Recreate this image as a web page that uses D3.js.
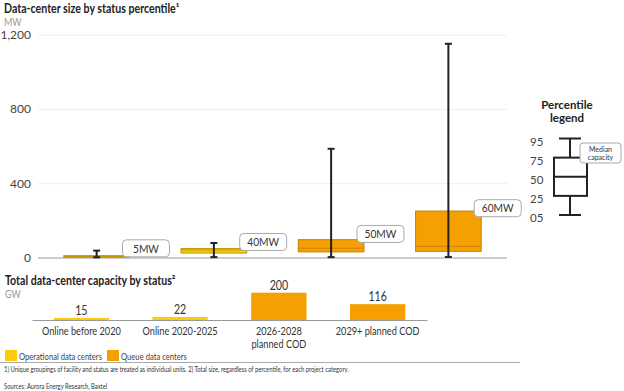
<!DOCTYPE html>
<html>
<head>
<meta charset="utf-8">
<script src="https://cdn.jsdelivr.net/npm/d3@7/dist/d3.min.js"></script>
<style>
  html, body { margin: 0; padding: 0; background: #fff; }
  svg { display: block; font-family: Lato, "Open Sans", sans-serif; }
</style>
</head>
<body>
<svg id="chart" width="624" height="391"></svg>
<script>
// ---- data ----
const categories = ["Online before 2020", "Online 2020-2025", "2026-2028\nplanned COD", "2029+ planned COD"];
const status = ["Operational", "Operational", "Queue", "Queue"];
const p05 = [1, 2, 2, 3];
const p25 = [1, 24, 30, 33];
const p50 = [5, 40, 50, 60];
const p75 = [10, 48, 96, 250];
const p95 = [37, 78, 585, 1150];
const medianLabels = ["5MW", "40MW", "50MW", "60MW"];
const capacityGW = [15, 22, 200, 116];
const sizeTicks = [0, 400, 800, 1200];
const legendPercentiles = ["95", "75", "50", "25", "05"];
const legendItems = ["Operational data centers", "Queue data centers"];

const fillColor = { Operational: "#FFCA08", Queue: "#F5A000" };
const strokeColor = { Operational: "#BE9600", Queue: "#C98300" };

const svg = d3.select("#chart");
const idx = d3.range(categories.length);

// narrow the text horizontally to match the reference's condensed rendering
function squeeze(sel, f) {
  sel.each(function () {
    const L = this.getComputedTextLength();
    this.setAttribute("textLength", L * f);
    this.setAttribute("lengthAdjust", "spacingAndGlyphs");
  });
  return sel;
}
const SQ = 0.85;

// ---- top panel ----
squeeze(svg.append("text").attr("x", 4).attr("y", 13).attr("font-size", 12.5).attr("font-weight", 700)
  .attr("fill", "#222").text("Data-center size by status percentile¹"), SQ);
squeeze(svg.append("text").attr("x", 4).attr("y", 25.5).attr("font-size", 10.5).attr("fill", "#999").text("MW"), SQ);

const xTop = d3.scaleBand().domain(idx).range([38, 507]).padding(0);
const boxW = xTop.step() * 0.56;
const y = d3.scaleLinear().domain([0, 1200]).range([257.5, 34.5]);

const yAxis = svg.append("g").attr("transform", "translate(38,0)")
  .call(d3.axisLeft(y).tickValues(sizeTicks).tickFormat(d3.format(",")).tickSize(-469).tickPadding(7));
yAxis.select(".domain").remove();
yAxis.selectAll(".tick line").attr("stroke", d => d === 0 ? "#999" : "#eeeeee");
yAxis.selectAll(".tick text").attr("font-size", 12).attr("fill", "#444").attr("font-family", "Lato, sans-serif");

const boxes = svg.append("g");
idx.forEach(i => {
  const cx = xTop(i) + xTop.bandwidth() / 2;
  const g = boxes.append("g");
  g.append("rect").attr("x", cx - boxW / 2).attr("y", y(p75[i]))
    .attr("width", boxW).attr("height", Math.max(1, y(p25[i]) - y(p75[i])))
    .attr("fill", fillColor[status[i]]).attr("stroke", strokeColor[status[i]]).attr("stroke-width", 1);
  g.append("line").attr("x1", cx - boxW / 2).attr("x2", cx + boxW / 2)
    .attr("y1", y(p50[i])).attr("y2", y(p50[i])).attr("stroke", strokeColor[status[i]]).attr("stroke-width", 1);
  g.append("line").attr("x1", cx).attr("x2", cx).attr("y1", y(p05[i])).attr("y2", y(p95[i]))
    .attr("stroke", "#222").attr("stroke-width", 2);
  [p05[i], p95[i]].forEach(v => {
    g.append("line").attr("x1", cx - 3.5).attr("x2", cx + 3.5).attr("y1", y(v)).attr("y2", y(v))
      .attr("stroke", "#222").attr("stroke-width", 2);
  });
  // median label
  const lx = cx + boxW / 2 - 7;
  const lh = 17, lw = 47;
  const lyBottom = y(p75[i]) + 1 + (y(0) - y(p75[i])) * 0.1;
  g.append("rect").attr("x", lx).attr("y", lyBottom - lh).attr("width", lw).attr("height", lh)
    .attr("rx", 4).attr("fill", "#fff").attr("stroke", "#aaa").attr("stroke-width", 1);
  squeeze(g.append("text").attr("font-size", 12).attr("fill", "#333").text(medianLabels[i])
    .attr("x", lx + lw / 2).attr("y", lyBottom - lh / 2 + 4.3).attr("text-anchor", "middle"), SQ);
});

// ---- percentile legend ----
const lg = svg.append("g");
lg.append("text").attr("x", 567).attr("y", 109).attr("text-anchor", "middle").attr("font-size", 11.5)
  .attr("font-weight", 700).attr("fill", "#222").text("Percentile");
lg.append("text").attr("x", 567).attr("y", 122).attr("text-anchor", "middle").attr("font-size", 11.5)
  .attr("font-weight", 700).attr("fill", "#222").text("legend");
const yl = d3.scalePoint().domain(legendPercentiles).range([138.5, 215]);
const lcx = 570;
lg.selectAll("text.pl").data(legendPercentiles).enter().append("text").attr("class", "pl")
  .attr("x", 530).attr("y", d => yl(d) + 7).attr("font-size", 11.5).attr("fill", "#444").text(d => d);
lg.append("line").attr("x1", lcx).attr("x2", lcx).attr("y1", yl("95")).attr("y2", yl("75")).attr("stroke", "#222").attr("stroke-width", 2);
lg.append("line").attr("x1", lcx).attr("x2", lcx).attr("y1", yl("25")).attr("y2", yl("05")).attr("stroke", "#222").attr("stroke-width", 2);
["95", "05"].forEach(p => lg.append("line").attr("x1", lcx - 11).attr("x2", lcx + 11)
  .attr("y1", yl(p)).attr("y2", yl(p)).attr("stroke", "#222").attr("stroke-width", 2));
lg.append("rect").attr("x", lcx - 16).attr("y", yl("75")).attr("width", 33).attr("height", yl("25") - yl("75"))
  .attr("fill", "#fff").attr("stroke", "#222").attr("stroke-width", 2);
lg.append("line").attr("x1", lcx - 16).attr("x2", lcx + 17).attr("y1", yl("50")).attr("y2", yl("50")).attr("stroke", "#222").attr("stroke-width", 2);
lg.append("rect").attr("x", 580).attr("y", 143).attr("width", 41).attr("height", 20).attr("rx", 3)
  .attr("fill", "#fff").attr("stroke", "#aaa");
lg.append("text").attr("x", 600.5).attr("y", 152).attr("text-anchor", "middle").attr("font-size", 7).attr("fill", "#333").text("Median");
lg.append("text").attr("x", 600.5).attr("y", 160).attr("text-anchor", "middle").attr("font-size", 7).attr("fill", "#333").text("capacity");

// ---- bottom panel ----
squeeze(svg.append("text").attr("x", 5).attr("y", 284.5).attr("font-size", 12.5).attr("font-weight", 700)
  .attr("fill", "#222").text("Total data-center capacity by status²"), SQ);
squeeze(svg.append("text").attr("x", 5).attr("y", 297.5).attr("font-size", 10.5).attr("fill", "#999").text("GW"), SQ);

const xBot = d3.scaleBand().domain(idx).range([32, 427]).padding(0);
const barW = xBot.step() * 0.56;
const yb = d3.scaleLinear().domain([0, 200]).range([320, 292.7]);

svg.append("g").selectAll("rect").data(idx).enter().append("rect")
  .attr("x", i => xBot(i) + xBot.bandwidth() / 2 - barW / 2)
  .attr("y", i => yb(capacityGW[i]))
  .attr("width", barW)
  .attr("height", i => yb(0) - yb(capacityGW[i]))
  .attr("fill", i => fillColor[status[i]]);

squeeze(svg.append("g").selectAll("text").data(idx).enter().append("text")
  .attr("x", i => xBot(i) + xBot.bandwidth() / 2)
  .attr("y", i => yb(capacityGW[i]) - 3)
  .attr("text-anchor", "middle").attr("font-size", 12.5).attr("fill", "#333")
  .text(i => capacityGW[i]), SQ);

const xAxis = svg.append("g").attr("transform", "translate(0,320)")
  .call(d3.axisBottom(xBot).tickSize(0).tickFormat(() => ""));
xAxis.select(".domain").attr("stroke", "#999");

const catG = svg.append("g");
idx.forEach(i => {
  const lines = categories[i].split("\n");
  lines.forEach((ln, k) => {
    squeeze(catG.append("text").attr("x", xBot(i) + xBot.bandwidth() / 2).attr("y", 335 + k * 13)
      .attr("text-anchor", "middle").attr("font-size", 10.8).attr("fill", "#333").text(ln), SQ);
  });
});

// legend
const legX = [5, 107];
legendItems.forEach((name, k) => {
  svg.append("rect").attr("x", legX[k]).attr("y", 350).attr("width", 12).attr("height", 11)
    .attr("fill", fillColor[k === 0 ? "Operational" : "Queue"]);
  squeeze(svg.append("text").attr("x", legX[k] + 14).attr("y", 359.5).attr("font-size", 9)
    .attr("fill", "#444").text(name), SQ);
});

svg.append("line").attr("x1", 0).attr("x2", 520).attr("y1", 362.5).attr("y2", 362.5).attr("stroke", "#aaa");
squeeze(svg.append("text").attr("x", 4).attr("y", 371.5).attr("font-size", 6.9).attr("fill", "#333")
  .text("1) Unique groupings of facility and status are treated as individual units. 2) Total size, regardless of percentile, for each project category."), SQ);
squeeze(svg.append("text").attr("x", 4).attr("y", 389).attr("font-size", 6.9).attr("fill", "#333")
  .text("Sources: Aurora Energy Research, Baxtel"), SQ);
</script>
</body>
</html>
